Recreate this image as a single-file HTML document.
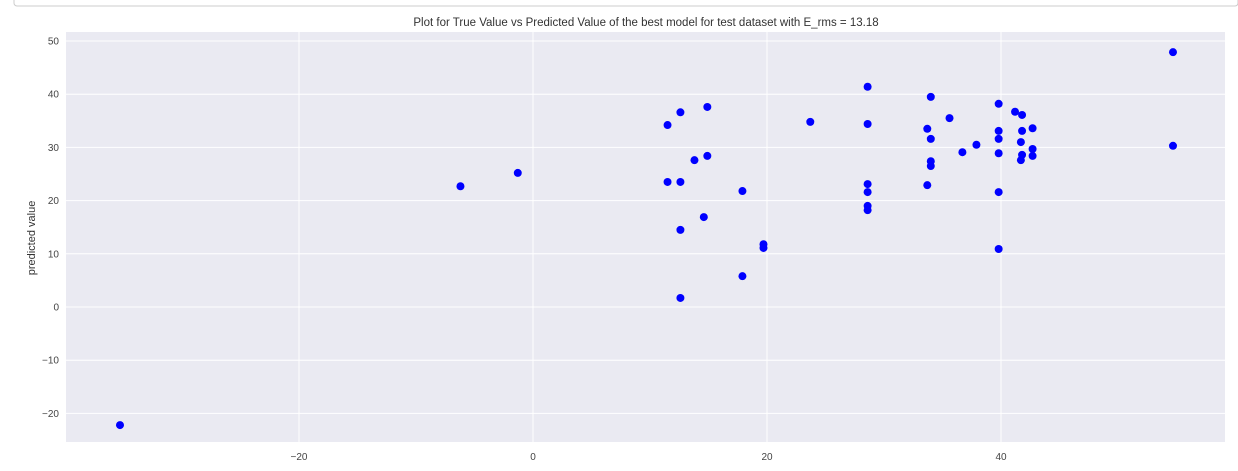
<!DOCTYPE html>
<html><head><meta charset="utf-8"><style>
body{margin:0;background:#fff;width:1238px;height:466px;overflow:hidden;font-family:"Liberation Sans",sans-serif}
svg text{font-family:"Liberation Sans",sans-serif}
</style></head><body>
<svg width="1238" height="466">
<rect x="14" y="-10" width="1224" height="16" fill="#fff" stroke="#ccc" rx="3"/>
<g id="chart"></g>
</svg>
<script>
const xValues=[-35.3,-6.2,-1.3,11.5,11.5,12.6,12.6,12.6,12.6,13.8,14.6,14.9,14.9,17.9,17.9,19.7,19.7,23.7,28.6,28.6,28.6,28.6,28.6,28.6,33.7,33.7,34.0,34.0,34.0,34.0,35.6,36.7,37.9,39.8,39.8,39.8,39.8,39.8,39.8,41.2,41.7,41.7,41.8,41.8,41.8,42.7,42.7,42.7,54.7,54.7];
const yValues=[-22.2,22.7,25.2,34.2,23.5,36.6,23.5,14.5,1.7,27.6,16.9,37.6,28.4,21.8,5.8,11.8,11.1,34.8,41.4,34.4,23.1,21.6,19.0,18.2,33.5,22.9,39.5,31.6,27.4,26.5,35.5,29.1,30.5,38.2,33.1,31.6,28.9,21.6,10.9,36.7,31.0,27.6,36.1,33.1,28.6,33.6,29.7,28.4,47.9,30.3];
const xTicks=[-20,0,20,40];
const yTicks=[-20,-10,0,10,20,30,40,50];
const titleText="Plot for True Value vs Predicted Value of the best model for test dataset with E_rms = 13.18";
const NS="http://www.w3.org/2000/svg";
const L=66,R=1225,T=32,B=442;
const sx=v=>533+v*11.7;
const sy=v=>307-v*5.32;
const g=document.getElementById('chart');
function mk(t,a){const e=document.createElementNS(NS,t);for(const k in a)e.setAttribute(k,a[k]);g.appendChild(e);return e;}
const bg=mk('rect',{x:L,y:T,width:R-L,height:B-T,fill:'#eaeaf2'});


xTicks.forEach(v=>{
 const l=mk('line',{x1:sx(v),x2:sx(v),y1:T,y2:B,stroke:'#fff','stroke-width':1});
 
 
 const t=mk('text',{x:sx(v),y:460,'font-size':10,fill:'#444','text-anchor':'middle'});
 t.textContent=v<0?'\u2212'+(-v):v;
 
 
});
yTicks.forEach(v=>{
 const l=mk('line',{x1:L,x2:R,y1:sy(v),y2:sy(v),stroke:'#fff','stroke-width':1});
 
 
 const t=mk('text',{x:59,y:sy(v)+3.5,'font-size':10,fill:'#444','text-anchor':'end'});
 t.textContent=v<0?'\u2212'+(-v):v;
 
 
});
xValues.forEach((x,i)=>{
 const c=mk('circle',{cx:sx(x),cy:sy(yValues[i]),r:4,fill:'#0000ff'});
 
 
});
const ti=mk('text',{x:646,y:26,'font-size':11.5,fill:'#333','text-anchor':'middle'});
ti.textContent=titleText;


const yl=mk('text',{x:0,y:0,'font-size':11,fill:'#333','text-anchor':'middle',transform:'translate(35,238) rotate(-90)'});
yl.textContent='predicted value';


const xl=mk('text',{x:646,y:474,'font-size':11,fill:'#333','text-anchor':'middle'});
xl.textContent='true value';


</script>
</body></html>
